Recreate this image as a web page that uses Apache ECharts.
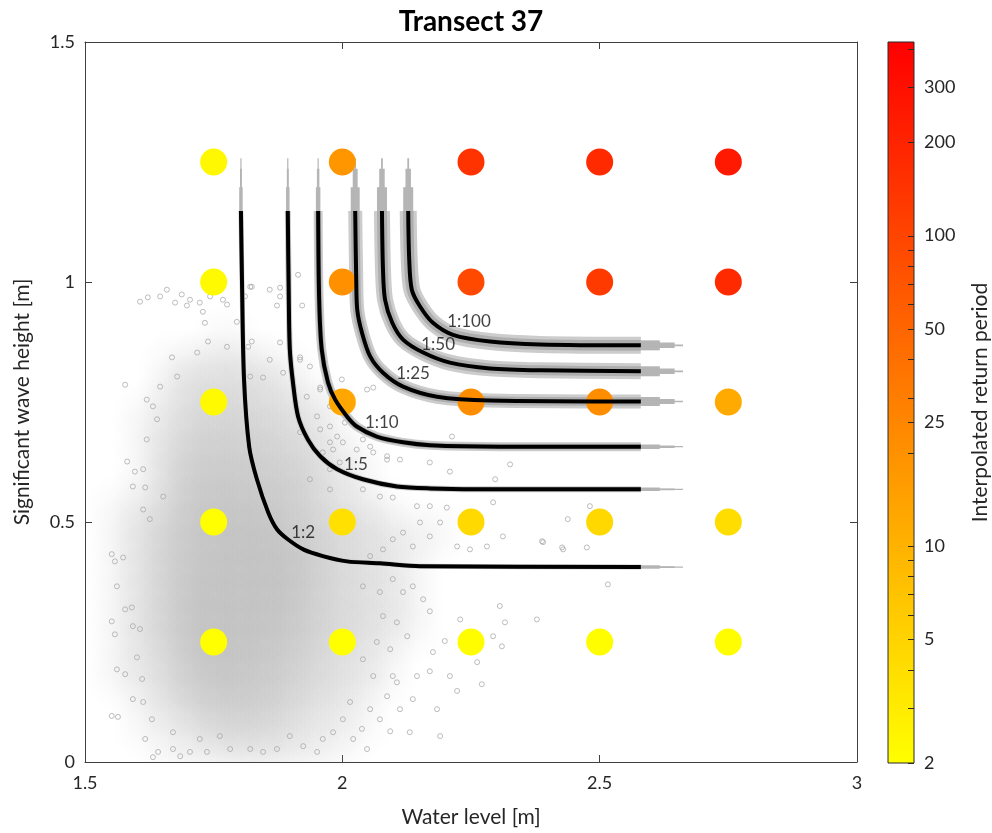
<!DOCTYPE html>
<html>
<head>
<meta charset="utf-8">
<script src="https://cdn.jsdelivr.net/npm/echarts@6/dist/echarts.min.js"></script>
<style>
html, body { margin: 0; padding: 0; background: #fff; }
#chart { width: 992px; height: 833px; }
</style>
</head>
<body>
<div id="chart"></div>
<script>
// ---- Sampled water level / wave height conditions and their return periods ----
const gridWaterLevel = [1.75, 2.0, 2.25, 2.5, 2.75];
const gridWaveHeight = [0.25, 0.5, 0.75, 1.0, 1.25];
// one row per wave height (same order as gridWaveHeight), one column per water level
const gridReturnPeriod = [
  [2.0, 2.0, 2.1, 2.1, 2.1],
  [2.0, 3.8, 4.4, 4.5, 4.1],
  [2.2, 13, 22, 22, 12],
  [2.2, 20, 90, 125, 175],
  [2.3, 18, 145, 175, 250]
];

// ---- Joint return period contours [water level, wave height] ----
const contourNames = ['1:2', '1:5', '1:10', '1:25', '1:50', '1:100'];
const contour2 = [[1.803,1.148],[1.805,1.005],[1.809,0.797],[1.819,0.657],[1.834,0.589],[1.856,0.520],[1.873,0.485],[1.894,0.464],[1.924,0.443],[1.962,0.429],[2.009,0.418],[2.073,0.414],[2.151,0.408],[2.580,0.406]];
const contour5 = [[1.894,1.148],[1.896,0.963],[1.898,0.859],[1.904,0.791],[1.914,0.720],[1.933,0.672],[1.957,0.637],[1.990,0.610],[2.040,0.589],[2.106,0.574],[2.170,0.570],[2.301,0.568],[2.580,0.568]];
const contour10 = [[1.953,1.148],[1.955,0.963],[1.960,0.859],[1.972,0.791],[1.986,0.755],[2.009,0.720],[2.028,0.699],[2.067,0.678],[2.118,0.666],[2.170,0.660],[2.306,0.657],[2.580,0.657]];
const contour25 = [[2.025,1.148],[2.027,1.005],[2.029,0.942],[2.038,0.895],[2.054,0.845],[2.079,0.811],[2.118,0.782],[2.184,0.761],[2.287,0.753],[2.580,0.751]];
const contour50 = [[2.077,1.148],[2.079,1.026],[2.083,0.963],[2.097,0.915],[2.118,0.880],[2.157,0.853],[2.209,0.832],[2.287,0.820],[2.384,0.816],[2.580,0.814]];
const contour100 = [[2.128,1.148],[2.130,1.046],[2.135,0.984],[2.151,0.949],[2.176,0.915],[2.215,0.890],[2.287,0.876],[2.384,0.870],[2.580,0.868]];
const contours = [contour2, contour5, contour10, contour25, contour50, contour100];
// extent reached by the uncertainty envelopes beyond the contour ends
const envelopeTop = 1.258;
const envelopeRight = 2.662;
// contour vertex each label is attached to
const labelVertex = [8, 8, 7, 6, 5, 5];

// ---- Observed conditions: binned density (0-9) on 0.05 m bins ----
const cloudBinX0 = 1.5;
const cloudBinY0 = 0.0;
const cloudBin = 0.05;
// rows from the top bin (0.95-1.00 m) down to the bottom bin (0.00-0.05 m); columns from 1.50 m
const cloudDensityRows = [
  "00000000000000000000",
  "00000000000000000000",
  "00000100000000000000",
  "00012221000000000000",
  "00023332100000000000",
  "00124443210000000000",
  "00135554310000000000",
  "00146665421000000000",
  "00147776521000000000",
  "01258887532100000000",
  "01368998643211000000",
  "01368999743210000000",
  "01369999743210000000",
  "01369999643210000000",
  "01369998643210000000",
  "01258987532100000000",
  "01247876432100000000",
  "00135665321000000000",
  "00113443211000000000",
  "00011222110000000000"
];
// individual observations in the sparse part of the cloud
const cloudSparse = [
  [1.607,0.959],[1.622,0.968],[1.646,0.970],[1.659,0.984],[1.675,0.957],[1.688,0.974],[1.698,0.951],[1.704,0.963],
  [1.723,0.957],[1.729,0.938],[1.743,0.970],[1.768,0.963],[1.776,0.953],[1.733,0.915],[1.795,0.917],[1.821,0.990],
  [1.879,0.988],[1.739,0.876],[1.776,0.865],[1.669,0.843],[1.718,0.853],[1.817,0.865],[1.824,0.876],[1.859,0.838],
  [1.879,0.874],[1.918,0.838],[1.578,0.786],[1.646,0.782],[1.679,0.803],[1.821,0.803],[1.846,0.801],[1.885,0.811],
  [1.957,0.780],[1.620,0.755],[1.632,0.741],[1.640,0.714],[1.620,0.672],[1.582,0.626],[1.597,0.605],[1.613,0.610],
  [1.593,0.574],[1.617,0.572],[1.613,0.526],[1.652,0.553],[1.626,0.506],[1.918,0.687],[1.957,0.693],[1.976,0.699],
  [1.931,0.761],[1.962,0.645],[1.937,0.589],
  [1.552,0.433],[1.558,0.418],[1.574,0.426],[1.562,0.366],[1.578,0.318],[1.591,0.322],[1.552,0.293],[1.593,0.283],
  [1.558,0.266],[1.607,0.277],[1.601,0.218],[1.562,0.193],[1.578,0.183],[1.611,0.173],[1.593,0.131],[1.613,0.125],
  [1.552,0.096],[1.564,0.094],[1.630,0.089],[1.617,0.048],[1.642,0.021],[1.632,0.010],[1.671,0.027],[1.685,0.012],
  [1.704,0.021],[1.737,0.021],[1.782,0.027],[1.821,0.027],[1.846,0.021],[1.873,0.027],[1.898,0.054],[1.924,0.033],
  [1.951,0.021],[1.962,0.048],[1.982,0.062],[1.671,0.062],[1.723,0.048],[1.762,0.054],
  [2.001,0.666],[2.028,0.651],[2.054,0.657],[1.982,0.651],[2.087,0.637],[2.112,0.630],[2.209,0.605],[2.170,0.624],
  [2.326,0.620],[2.297,0.589],[1.976,0.568],[2.040,0.568],[2.073,0.553],[2.098,0.551],[2.145,0.533],[2.170,0.533],
  [2.203,0.530],[2.293,0.541],[2.312,0.470],[2.438,0.506],[2.390,0.458],[2.429,0.443],[2.281,0.449],[2.248,0.443],
  [2.223,0.449],[2.190,0.499],[2.170,0.470],[2.137,0.449],[2.118,0.478],[2.151,0.499],[2.098,0.464],[2.079,0.443],
  [2.054,0.429],[2.306,0.325],[2.378,0.297],[2.316,0.291],[2.293,0.262],[2.310,0.241],[2.262,0.208],[2.271,0.162],
  [2.229,0.297],[2.199,0.252],[2.176,0.229],[2.170,0.189],[2.209,0.179],[2.223,0.148],[2.184,0.110],[2.190,0.054],
  [2.145,0.179],[2.137,0.131],[2.131,0.062],[2.093,0.064],[2.048,0.027],[2.038,0.069],[2.157,0.339],[2.170,0.314],
  [2.137,0.366],[2.118,0.354],[2.098,0.381],[2.073,0.354],[2.040,0.366],[2.079,0.304],[2.106,0.291],[2.126,0.262],
  [2.093,0.235],[2.067,0.250],[2.040,0.214],[2.060,0.179],[2.098,0.179],[2.106,0.166],[2.087,0.137],[2.054,0.110],
  [2.015,0.125],[2.001,0.089],[2.021,0.048],[2.073,0.089],[2.112,0.110],
  [1.914,1.015],[1.824,0.990],[1.811,0.970],[1.859,0.984],[1.879,0.970],[1.873,0.951],[1.922,0.951],[1.918,0.843],
  [1.937,0.824],[1.957,0.776],[2.048,0.776],[2.060,0.780],[1.999,0.797],[1.976,0.741],[1.951,0.720],[1.990,0.678],
  [1.976,0.666],[2.005,0.707],[2.060,0.645],[2.087,0.630],[1.995,0.624],[1.976,0.610],[2.040,0.672],[2.213,0.678],
  [2.481,0.533],[2.388,0.460],[2.427,0.447],[2.475,0.447],[2.516,0.370]
];

// ---- Colour bar (return period, log scale) ----
const colorbarRange = [2, 420];
const colorbarLabels = [2, 5, 10, 25, 50, 100, 200, 300];
const colorbarTicks = [2, 3, 4, 5, 6, 7, 8, 9, 10, 20, 25, 30, 40, 50, 60, 70, 80, 90, 100, 200, 300, 400];

// ---- Helpers ----
const FONT = 'Lato, "Open Sans", sans-serif';
const TEXT = '#262626';
const AXIS = '#404040';
const lg = Math.log10;
const cMin = lg(colorbarRange[0]), cMax = lg(colorbarRange[1]);

// autumn colour scale (yellow -> red) on log return period
function returnPeriodColor(v) {
  let t = (lg(v) - cMin) / (cMax - cMin);
  t = Math.max(0, Math.min(1, t));
  return 'rgb(255,' + Math.round(255 * (1 - t)) + ',0)';
}

// density bins -> [centre x, centre y, density]
const cloudBins = [];
cloudDensityRows.forEach((row, r) => {
  const yc = cloudBinY0 + (cloudDensityRows.length - 1 - r) * cloudBin + cloudBin / 2;
  for (let c = 0; c < row.length; c++) {
    const d = +row.charAt(c);
    if (d > 0) cloudBins.push([cloudBinX0 + c * cloudBin + cloudBin / 2, yc, d]);
  }
});

const gridPoints = [];
gridWaveHeight.forEach((h, i) => {
  gridWaterLevel.forEach((w, j) => gridPoints.push([w, h, gridReturnPeriod[i][j]]));
});

// ---- Series ----
const series = [];

// observation cloud as overlapping soft density kernels
series.push({
  type: 'custom',
  xAxisIndex: 0, yAxisIndex: 0,
  clip: true,
  z: 1,
  silent: true,
  data: cloudBins,
  renderItem: function (params, api) {
    const p = api.coord([api.value(0), api.value(1)]);
    const s = api.size([cloudBin, cloudBin]);
    const a = Math.pow(api.value(2) / 9, 0.7) * 0.4;
    const g = (k) => 'rgba(172,172,172,' + (a * k).toFixed(3) + ')';
    return {
      type: 'circle',
      shape: { cx: p[0], cy: p[1], r: s[0] * 1.5 },
      style: {
        fill: {
          type: 'radial', x: 0.5, y: 0.5, r: 0.5,
          colorStops: [
            { offset: 0, color: g(1) },
            { offset: 0.4, color: g(0.7) },
            { offset: 0.7, color: g(0.3) },
            { offset: 1, color: g(0) }
          ]
        }
      }
    };
  }
});

// sparse observations as hollow markers
series.push({
  type: 'scatter',
  xAxisIndex: 0, yAxisIndex: 0,
  z: 2,
  silent: true,
  symbol: 'circle',
  symbolSize: 5,
  itemStyle: { color: 'rgba(255,255,255,0)', borderColor: '#a3a3a3', borderWidth: 0.9 },
  data: cloudSparse
});

// uncertainty envelopes (grey) behind each contour, tapering past the contour ends
const envelopeWidth = [5, 6, 9, 14, 16, 17];
const extensionWidth = [3.5, 3.5, 4.5, 9, 10, 10];
const extensionSteps = [[0.45, 1], [0.8, 0.55], [1, 0.18]];
contours.forEach((pts, k) => {
  const first = pts[0], last = pts[pts.length - 1];
  // outer, lighter fringe and denser inner band
  [[1, '#cccccc'], [0.62, '#aeaeae']].forEach(([scale, color]) => {
    series.push({
      type: 'line', xAxisIndex: 0, yAxisIndex: 0, z: 3, silent: true,
      showSymbol: false, smooth: 0.3,
      lineStyle: { color: color, width: envelopeWidth[k] * scale, cap: 'butt', join: 'round' },
      data: pts
    });
  });
  extensionSteps.forEach(([reach, scale]) => {
    const topY = first[1] + (envelopeTop - first[1]) * reach;
    const rightX = last[0] + (envelopeRight - last[0]) * reach;
    [[[first[0], first[1]], [first[0], topY]], [[last[0], last[1]], [rightX, last[1]]]].forEach(seg => {
      series.push({
        type: 'line', xAxisIndex: 0, yAxisIndex: 0, z: 3, silent: true,
        showSymbol: false,
        lineStyle: { color: '#b5b5b5', width: Math.max(1.2, extensionWidth[k] * scale) },
        data: seg
      });
    });
  });
});

// sampled conditions coloured by return period
series.push({
  type: 'scatter',
  xAxisIndex: 0, yAxisIndex: 0,
  z: 4,
  silent: true,
  symbol: 'circle',
  symbolSize: 27,
  itemStyle: { color: p => returnPeriodColor(p.data[2]), opacity: 1 },
  data: gridPoints
});

// contour lines (black)
contours.forEach((pts) => {
  series.push({
    type: 'line', xAxisIndex: 0, yAxisIndex: 0, z: 5, silent: true,
    showSymbol: false, smooth: 0.3,
    lineStyle: { color: '#000', width: 4, cap: 'butt', join: 'round' },
    data: pts
  });
});

// contour labels
const labelOffsets = [[0, -17], [-7, -15], [5, -14], [10, -13], [15, -8], [16, -13]];
series.push({
  type: 'scatter',
  xAxisIndex: 0, yAxisIndex: 0,
  z: 6,
  silent: true,
  symbolSize: 0,
  data: contours.map((pts, k) => ({
    value: pts[labelVertex[k]],
    name: contourNames[k],
    label: { offset: labelOffsets[k] }
  })),
  label: {
    show: true, position: 'inside', formatter: p => p.name,
    color: '#111', fontFamily: FONT, fontSize: 17
  }
});

// colour bar body with its frame and inward ticks on the right edge
series.push({
  type: 'custom',
  xAxisIndex: 2, yAxisIndex: 2,
  z: 1,
  silent: true,
  data: [[0, cMin, cMax]],
  renderItem: function (params, api) {
    const p0 = api.coord([0, api.value(1)]);
    const p1 = api.coord([1, api.value(2)]);
    const children = [{
      type: 'rect',
      shape: { x: p0[0], y: p1[1], width: p1[0] - p0[0], height: p0[1] - p1[1] },
      style: {
        fill: {
          type: 'linear', x: 0, y: 1, x2: 0, y2: 0,
          colorStops: [{ offset: 0, color: '#ffff00' }, { offset: 1, color: '#ff0000' }]
        },
        stroke: '#2a2a2a', lineWidth: 1
      }
    }];
    colorbarTicks.forEach(v => {
      const t = api.coord([1, lg(v)]);
      const y = Math.round(t[1]) + 0.5;
      children.push({
        type: 'line',
        shape: { x1: t[0] - 6, y1: y, x2: t[0], y2: y },
        style: { stroke: '#2a2a2a', lineWidth: 1 }
      });
    });
    return { type: 'group', children: children };
  }
});

const tickLabelStyle = { color: TEXT, fontFamily: FONT, fontSize: 18 };
const nameStyle = { color: TEXT, fontFamily: FONT, fontSize: 21 };

const option = {
  animation: false,
  backgroundColor: '#fff',
  title: {
    text: 'Transect 37',
    left: 466, top: 3, textAlign: 'center',
    textStyle: { fontFamily: FONT, fontSize: 28, fontWeight: 'bold', color: '#000' }
  },
  grid: [
    { left: 85, right: 135, top: 42, bottom: 70 },
    { left: 888, width: 32, top: 42, bottom: 70 }
  ],
  xAxis: [
    {
      gridIndex: 0, type: 'value', min: 1.5, max: 3, interval: 0.5, position: 'bottom',
      name: 'Water level [m]', nameLocation: 'middle', nameGap: 45,
      nameTextStyle: nameStyle,
      axisLine: { show: true, onZero: false, lineStyle: { color: AXIS, width: 1 } },
      axisTick: { show: true, inside: true, length: 7, lineStyle: { color: AXIS } },
      axisLabel: Object.assign({ margin: 12 }, tickLabelStyle),
      splitLine: { show: false }
    },
    {
      gridIndex: 0, type: 'value', min: 1.5, max: 3, interval: 0.5, position: 'top',
      axisLine: { show: true, onZero: false, lineStyle: { color: AXIS, width: 1 } },
      axisTick: { show: true, inside: true, length: 7, lineStyle: { color: AXIS } },
      axisLabel: { show: false },
      splitLine: { show: false }
    },
    {
      gridIndex: 1, type: 'value', min: 0, max: 1, show: false
    }
  ],
  yAxis: [
    {
      gridIndex: 0, type: 'value', min: 0, max: 1.5, interval: 0.5, position: 'left',
      name: 'Significant wave height [m]', nameLocation: 'middle', nameGap: 52, nameRotate: 90,
      nameTextStyle: nameStyle,
      axisLine: { show: true, onZero: false, lineStyle: { color: AXIS, width: 1 } },
      axisTick: { show: true, inside: true, length: 7, lineStyle: { color: AXIS } },
      axisLabel: Object.assign({ margin: 10 }, tickLabelStyle),
      splitLine: { show: false }
    },
    {
      gridIndex: 0, type: 'value', min: 0, max: 1.5, interval: 0.5, position: 'right',
      axisLine: { show: true, onZero: false, lineStyle: { color: AXIS, width: 1 } },
      axisTick: { show: true, inside: true, length: 7, lineStyle: { color: AXIS } },
      axisLabel: { show: false },
      splitLine: { show: false }
    },
    {
      gridIndex: 1, type: 'value', min: cMin, max: cMax, position: 'right',
      name: 'Interpolated return period', nameLocation: 'middle', nameGap: 56, nameRotate: 90,
      nameTextStyle: nameStyle,
      axisLine: { show: false },
      axisTick: { show: false },
      axisLabel: Object.assign({
        margin: 10,
        customValues: colorbarLabels.map(lg),
        formatter: v => String(Math.round(Math.pow(10, v)))
      }, tickLabelStyle),
      splitLine: { show: false }
    }
  ],
  series: series
};

const chart = echarts.init(document.getElementById('chart'), null, { renderer: 'canvas' });
chart.setOption(option);
</script>
</body>
</html>
